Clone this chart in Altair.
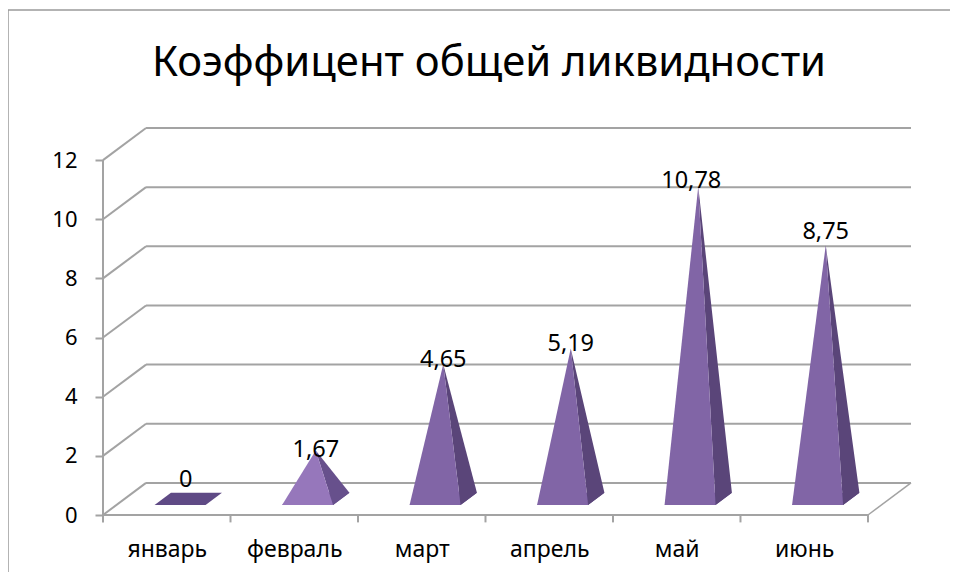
import altair as alt
import pandas as pd

categories = ["январь", "февраль", "март", "апрель", "май", "июнь"]
values = [0, 1.67, 4.65, 5.19, 10.78, 8.75]
value_labels = ["0", "1,67", "4,65", "5,19", "10,78", "8,75"]
y_ticks = [0, 2, 4, 6, 8, 10, 12]
highlight = "февраль"
title = "Коэффицент общей ликвидности"

FONT = "Noto Sans"
DX, DY = 0.3375, 1.085      # projection of full chart depth, in data units
HALF = 0.2                  # half width of a pyramid's base
Z1, Z2 = 0.31, 0.69         # front/back of a pyramid's base along the depth
SQUEEZE = 0.98              # perspective shortening of the height
LIFT = [0.64, 0.03, 0.14, 0.14, 0.17, 0.44]   # label centre above the apex
SHIFT = [-0.02, 0, 0, 0, -0.055, 0]           # label centre beside the apex

GRID = "#a3a3a3"
FRONT, SIDE, FLOOR = "#8165a6", "#5a4579", "#5f4a85"
FRONT_HI, SIDE_HI = "#9677bb", "#67508c"

faces = []
labels = []
for i, (cat, val) in enumerate(zip(categories, values)):
    c = i + 0.5
    xl = c - HALF + DX * Z1
    xr = c + HALF + DX * Z1
    yf = DY * Z1
    yb = DY * Z2
    d = DX * (Z2 - Z1)
    ax = (xl + xr + d) / 2
    ay = (yf + yb) / 2 + val * SQUEEZE
    front, side = (FRONT_HI, SIDE_HI) if cat == highlight else (FRONT, SIDE)
    pts = []
    # floor of the pyramid, drawn first
    pts += [(f"{i}a", FLOOR, xl, yf, yf), (f"{i}a", FLOOR, xl + d, yb, yf),
            (f"{i}a", FLOOR, xr, yb, yf), (f"{i}a", FLOOR, xr + d, yb, yb)]
    if val > 0:
        # right face
        t = (xr - ax) / (xr + d - ax)
        pts += [(f"{i}b", side, ax, ay, ay),
                (f"{i}b", side, xr, ay + t * (yb - ay), yf),
                (f"{i}b", side, xr + d, yb, yb)]
        # front face
        pts += [(f"{i}c", front, xl, yf, yf), (f"{i}c", front, ax, ay, yf),
                (f"{i}c", front, xr, yf, yf)]
    faces += [{"face": p[0], "fillc": p[1], "x": p[2], "y": p[3], "y2": p[4]} for p in pts]
    labels.append({"x": ax + SHIFT[i], "y": ay + LIFT[i], "t": value_labels[i]})

faces = pd.DataFrame(faces)
labels = pd.DataFrame(labels)
n = len(categories)

x_scale = alt.Scale(domain=[0, n + DX], nice=False, zero=False)
y_scale = alt.Scale(domain=[0, 12 + DY], nice=False, zero=False)
x_axis = alt.Axis(
    values=[i + 0.5 for i in range(n)],
    labelExpr="['январь','февраль','март','апрель','май','июнь'][floor(datum.value)]",
    title=None, domain=False, ticks=False, grid=False, labelPadding=23,
    labelFont=FONT, labelFontSize=23, labelColor="#000000")
y_axis = alt.Axis(
    values=y_ticks, title=None, domain=False, grid=False, tickColor=GRID, tickSize=8,
    tickWidth=2, labelPadding=18, labelFont=FONT, labelFontSize=22, labelColor="#000000",
    format="d")
X = alt.X("x:Q", scale=x_scale, axis=x_axis)
Y = alt.Y("y:Q", scale=y_scale, axis=y_axis)

# back wall
back = alt.Chart(pd.DataFrame({"v": y_ticks})).transform_calculate(
    x=f"{DX}", x2=f"{n + DX}", y=f"datum.v + {DY}"
).mark_rule(color=GRID, strokeWidth=2).encode(X, alt.X2("x2:Q"), Y)

# left wall
wall = []
for v in y_ticks:
    wall += [{"v": v, "x": 0, "y": v}, {"v": v, "x": DX, "y": v + DY}]
left = alt.Chart(pd.DataFrame(wall)).mark_line(color=GRID, strokeWidth=2).encode(X, Y, detail="v:N")

right_edge = alt.Chart(pd.DataFrame([{"x": n, "y": 0}, {"x": n + DX, "y": DY}])).mark_line(
    color=GRID, strokeWidth=1.5).encode(X, Y)

front_edge = alt.Chart(pd.DataFrame({"x": [0], "x2": [n], "y": [0]})).mark_rule(
    color=GRID, strokeWidth=2).encode(X, alt.X2("x2:Q"), Y)

y_line = alt.Chart(pd.DataFrame({"x": [0], "y": [0], "y2": [12]})).mark_rule(
    color=GRID, strokeWidth=2).encode(X, Y, alt.Y2("y2:Q"))

x_ticks = alt.Chart(pd.DataFrame({"x": list(range(n + 1)), "y": [0] * (n + 1), "y2": [-0.25] * (n + 1)})).mark_rule(
    color=GRID, strokeWidth=2).encode(X, Y, alt.Y2("y2:Q"))

pyramids = alt.Chart(faces).mark_area(orient="vertical", opacity=1).encode(
    X, Y, alt.Y2("y2:Q"), alt.Fill("fillc:N", scale=None), detail="face:N")

text = alt.Chart(labels).mark_text(font=FONT, fontSize=23.5, color="#000000", baseline="middle").encode(
    X, Y, text="t:N")

frame_top = alt.Chart(pd.DataFrame({"a": [0]})).mark_rule(color="#9a9a9a", strokeWidth=1.5).encode(
    x=alt.value(-95), x2=alt.value(847), y=alt.value(-118))
frame_left = alt.Chart(pd.DataFrame({"a": [0]})).mark_rule(color="#9a9a9a", strokeWidth=1.5).encode(
    x=alt.value(-95), y=alt.value(-118), y2=alt.value(444))

chart = alt.layer(
    frame_top, frame_left, back, left, right_edge, y_line, front_edge, x_ticks, pyramids, text
).properties(
    width=808, height=387,
    title=alt.TitleParams(title, font=FONT, fontSize=41.8, fontWeight="normal", color="#000000",
                          anchor="middle", dx=-18, dy=118, offset=0, baseline="bottom"),
    autosize=alt.AutoSizeParams(type="none"),
    padding={"left": 95, "top": 120, "right": 39, "bottom": 57},
    background="white",
).configure_view(stroke=None)

chart.save("out.html", embed_options={"renderer": "svg", "actions": False})
